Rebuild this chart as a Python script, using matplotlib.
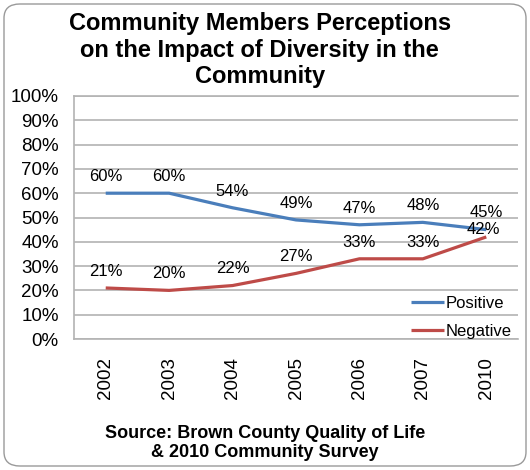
import matplotlib
matplotlib.use("Agg")
import matplotlib.pyplot as plt
from matplotlib.patches import FancyBboxPatch

plt.rcParams["font.family"] = ["Liberation Sans", "DejaVu Sans"]

years = ["2002", "2003", "2004", "2005", "2006", "2007", "2010"]
positive = [60, 60, 54, 49, 47, 48, 45]
negative = [21, 20, 22, 27, 33, 33, 42]

fig = plt.figure(figsize=(5.3, 4.7), dpi=100)
ax = fig.add_axes([74 / 530, 1 - 339 / 470, 444 / 530, 243 / 470])

x = list(range(len(years)))
ax.plot(x, positive, color="#4A7EBB", lw=2.3, label="Positive", solid_capstyle="butt")
ax.plot(x, negative, color="#BE4B48", lw=2.3, label="Negative", solid_capstyle="butt")

for i, v in enumerate(positive):
    ax.annotate(f"{v}%", (i, v), xytext=(0, 12), textcoords="offset points",
                ha="center", va="center", fontsize=12)
last = len(negative) - 1
for i, v in enumerate(negative):
    off = (-2, 5) if i == last else (0, 12)
    ax.annotate(f"{v}%", (i, v), xytext=off, textcoords="offset points",
                ha="center", va="center", fontsize=12)

ax.set_xlim(-0.5, len(years) - 0.5)
ax.set_ylim(0, 100)
ax.set_yticks(range(0, 101, 10))
ax.set_yticklabels([f"{t}%" for t in range(0, 101, 10)], fontsize=13.5)
ax.set_xticks(x)
ax.set_xticklabels(years, rotation=90, fontsize=13.5)
ax.tick_params(length=0)
ax.tick_params(axis="y", pad=11)
ax.tick_params(axis="x", pad=13)
ax.grid(axis="y", color="#B3B3B3", lw=1.2)
ax.set_axisbelow(True)
for side, sp in ax.spines.items():
    sp.set_color("#B3B3B3")
    sp.set_linewidth(1.2)
ax.spines["right"].set_visible(False)

leg = ax.legend(loc="lower right", bbox_to_anchor=(1.02, -0.06), frameon=False,
                fontsize=12, handlelength=2.0, handletextpad=0.1, labelspacing=0.75)

fig.text(0.49, 1 - 12 / 470,
         "Community Members Perceptions\non the Impact of Diversity in the\nCommunity",
         ha="center", va="top", fontsize=17, fontweight="bold", linespacing=1.2)
fig.text(0.5, 1 - 443 / 470,
         "Source: Brown County Quality of Life\n& 2010 Community Survey",
         ha="center", va="center", fontsize=13, fontweight="bold", linespacing=1.1)

fig.patches.append(FancyBboxPatch((4 / 530, 4 / 470), 522 / 530, 462 / 470,
                                  boxstyle="round,pad=0,rounding_size=0.03",
                                  transform=fig.transFigure, fc="none",
                                  ec="#9A9A9A", lw=1.0))

fig.savefig("out.png", dpi=100)
